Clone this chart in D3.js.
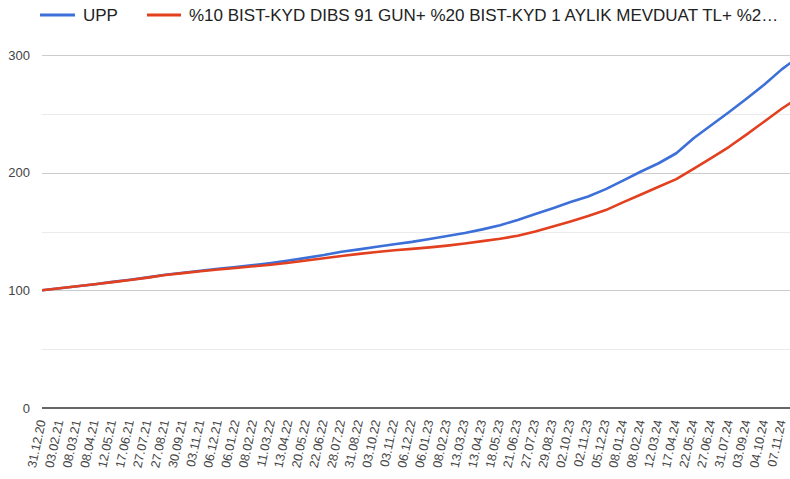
<!DOCTYPE html>
<html>
<head>
<meta charset="utf-8">
<script src="https://cdn.jsdelivr.net/npm/d3@7"></script>
<style>
  html, body { margin: 0; padding: 0; background: #fff; }
  svg { display: block; font-family: Arial, "Liberation Sans", sans-serif; }
</style>
</head>
<body>
<svg id="chart" width="790" height="479"></svg>
<script>
// ---- data ----
const dates = [
  "31.12.20","03.02.21","08.03.21","08.04.21","12.05.21","17.06.21","27.07.21","27.08.21",
  "30.09.21","03.11.21","06.12.21","06.01.22","08.02.22","11.03.22","13.04.22","20.05.22",
  "22.06.22","28.07.22","31.08.22","03.10.22","03.11.22","06.12.22","06.01.23","08.02.23",
  "13.03.23","13.04.23","18.05.23","21.06.23","27.07.23","29.08.23","02.10.23","02.11.23",
  "05.12.23","08.01.24","08.02.24","12.03.24","17.04.24","22.05.24","27.06.24","31.07.24",
  "03.09.24","04.10.24","07.11.24","09.12.24"
];
const tickLabels = dates.slice(0, 43);
const seriesNames = ["UPP", "%10 BIST-KYD DIBS 91 GUN+ %20 BIST-KYD 1 AYLIK MEVDUAT TL+ %2\u2026"];
const upp = [
  100, 101.8, 103.5, 105.2, 107.2, 109.0, 111.0, 113.2, 115.0, 116.7, 118.3, 119.8,
  121.5, 123.3, 125.3, 127.6, 130.0, 132.8, 134.8, 137.0, 139.2, 141.2, 143.6, 146.2,
  148.8, 151.8, 155.4, 159.8, 164.8, 169.8, 175.0, 179.8, 186.0, 193.5, 201.0, 208.0,
  216.5, 229.5, 240.5, 251.5, 263.0, 275.0, 288.0, 299.0
];
const benchmark = [
  100, 101.8, 103.5, 105.1, 107.0, 108.8, 110.8, 113.0, 114.6, 116.2, 117.7, 119.0,
  120.4, 121.8, 123.5, 125.3, 127.2, 129.2, 131.0, 132.6, 134.0, 135.2, 136.5, 138.0,
  139.8, 141.8, 143.8, 146.4, 150.0, 154.2, 158.6, 163.2, 168.2, 175.0, 181.5, 188.0,
  194.5, 203.5, 212.5, 222.0, 232.5, 243.5, 254.5, 264.5
];
const yTicks = [0, 100, 200, 300];
const yMinorTicks = [50, 150, 250];
const colors = ["#3d6fd8", "#e2401f"];

// ---- layout ----
const svg = d3.select("#chart");
const plotLeft = 42, plotRight = 790, plotBottom = 408;

const x = d3.scaleLinear().domain([0, tickLabels.length - 1]).range([plotLeft, 782]);
const y = d3.scaleLinear().domain([0, 300]).range([plotBottom, 55]);

svg.append("defs").append("clipPath").attr("id", "clip")
  .append("rect").attr("x", plotLeft).attr("y", 0).attr("width", plotRight - plotLeft).attr("height", plotBottom);

// gridlines
const grid = svg.append("g");
grid.selectAll("line.minor").data(yMinorTicks).join("line")
  .attr("class", "minor")
  .attr("x1", plotLeft).attr("x2", plotRight)
  .attr("y1", d => Math.round(y(d)) + 0.5).attr("y2", d => Math.round(y(d)) + 0.5)
  .attr("stroke", "#ebebeb").attr("stroke-width", 1);
grid.selectAll("line.major").data(yTicks.filter(d => d !== 0)).join("line")
  .attr("class", "major")
  .attr("x1", plotLeft).attr("x2", plotRight)
  .attr("y1", d => Math.round(y(d)) + 0.5).attr("y2", d => Math.round(y(d)) + 0.5)
  .attr("stroke", "#cccccc").attr("stroke-width", 1);

// y axis labels
const yAxis = d3.axisLeft(y).tickValues(yTicks).tickSize(0).tickPadding(12);
const gy = svg.append("g").attr("transform", `translate(${plotLeft},0)`).call(yAxis);
gy.select(".domain").remove();
gy.selectAll("text").attr("font-size", 13).attr("fill", "#444")
  .attr("font-family", "Arial, 'Liberation Sans', sans-serif");

// lines
const line = d3.line().x((d, i) => x(i)).y(d => y(d));
const plot = svg.append("g").attr("clip-path", "url(#clip)");
[upp, benchmark].forEach((s, k) => {
  plot.append("path").datum(s)
    .attr("d", line)
    .attr("fill", "none")
    .attr("stroke", colors[k])
    .attr("stroke-width", 2.6)
    .attr("stroke-linejoin", "round");
});

// zero baseline
svg.append("line")
  .attr("x1", plotLeft).attr("x2", plotRight)
  .attr("y1", y(0)).attr("y2", y(0))
  .attr("stroke", "#333").attr("stroke-width", 1.6);

// x axis labels (slanted)
const xAxis = d3.axisBottom(x)
  .tickValues(d3.range(tickLabels.length))
  .tickFormat(i => tickLabels[i])
  .tickSize(0);
const gx = svg.append("g").attr("transform", `translate(0,${plotBottom})`).call(xAxis);
gx.select(".domain").remove();
gx.selectAll("text")
  .attr("font-size", 12.5)
  .attr("fill", "#444")
  .attr("font-family", "Arial, 'Liberation Sans', sans-serif")
  .attr("text-anchor", "end")
  .attr("dy", "0.35em")
  .attr("transform", "translate(-1,12) rotate(-78)")
  .attr("x", 0).attr("y", 0);

// legend
const lg = svg.append("g");
const legendItems = [
  { x1: 40, x2: 75, tx: 83 },
  { x1: 147, x2: 181, tx: 189 }
];
legendItems.forEach((it, k) => {
  lg.append("line").attr("x1", it.x1).attr("x2", it.x2).attr("y1", 15).attr("y2", 15)
    .attr("stroke", colors[k]).attr("stroke-width", 3);
  lg.append("text").attr("x", it.tx).attr("y", 21)
    .attr("font-size", 17).attr("fill", "#222")
    .text(seriesNames[k]);
});
</script>
</body>
</html>
